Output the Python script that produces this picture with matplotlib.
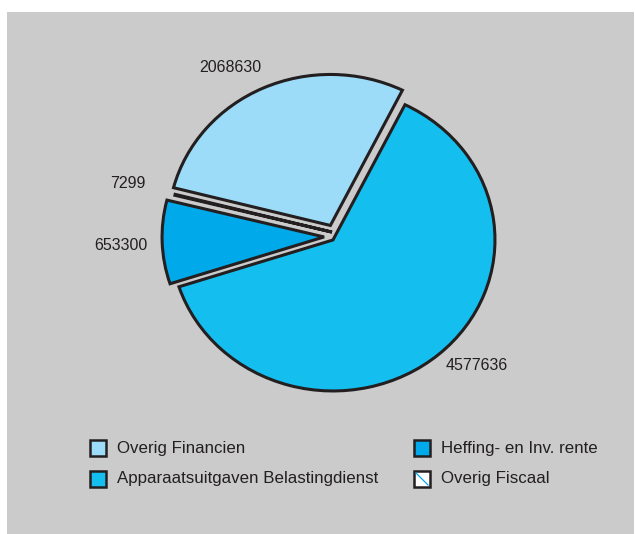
import matplotlib
matplotlib.use("Agg")
import matplotlib.pyplot as plt
from matplotlib.patches import Rectangle
from matplotlib.lines import Line2D

# Budget components (euro x 1000)
categories = ["Overig Financien", "Overig Fiscaal", "Heffing- en Inv. rente",
              "Apparaatsuitgaven Belastingdienst"]
values = [2068630, 7299, 653300, 4577636]
colors = ["#9CDCF8", "#FFFFFF", "#00AAEA", "#14BFF0"]
hatches = [None, "\\\\", None, None]

# Legend order (two columns)
legend_order = [0, 3, 2, 1]

W, H = 635, 534
DPI = 100
EDGE = "#231F20"
TEXT = "#231F20"
BG = "#CBCBCB"

# pulled-out slice offsets (axis units, x / y)
slice_shift = [(-0.01, 0.083), (0.0, 0.039), (-0.049, 0.007), (0.006, -0.013)]

plt.rcParams["font.family"] = ["Liberation Sans", "DejaVu Sans"]
plt.rcParams["hatch.color"] = "#00AAEA"
plt.rcParams["hatch.linewidth"] = 1.0

fig = plt.figure(figsize=(W / DPI, H / DPI), dpi=DPI, facecolor="white")

# grey panel
fig.patches.append(Rectangle((7 / W, 0), (634 - 7) / W, (H - 12) / H,
                             transform=fig.transFigure, facecolor=BG,
                             edgecolor="none", zorder=-5))

# pie axes: centre at (332, 238) px, radii 162 px (x) and 151 px (y)
cx, cy, rx, ry = 332, 238, 162, 151
ax_w, ax_h = 2.5 * rx, 2.5 * ry
ax = fig.add_axes([(cx - ax_w / 2) / W, (H - cy - ax_h / 2) / H, ax_w / W, ax_h / H])
ax.set_facecolor("none")
ax.set_zorder(2)

wedges, _ = ax.pie(values, colors=colors, startangle=63.6, counterclock=True,
                   wedgeprops=dict(edgecolor=EDGE, linewidth=2.2,
                                   joinstyle="miter"))
for w, h, (sx, sy) in zip(wedges, hatches, slice_shift):
    if h:
        w.set_hatch(h)
    w.set_center((sx, sy))
ax.set_aspect("auto")
ax.set_xlim(-1.25, 1.25)
ax.set_ylim(-1.25, 1.25)
ax.axis("off")

# value labels
label_pos = [(-0.63, 1.13, "center"), (-1.15, 0.36, "right"),
             (-1.14, -0.05, "right"), (0.70, -0.845, "left")]
for v, (lx, ly, ha) in zip(values, label_pos):
    ax.text(lx, ly, f"{v}", ha=ha, va="center", fontsize=11.5, color=TEXT)

# legend
sq = 16
col_x = [90, 414]
row_y = [448, 479]
for k, idx in enumerate(legend_order):
    col, row = k // 2, k % 2
    x0 = col_x[col]
    y0 = row_y[row]
    fig.patches.append(Rectangle((x0 / W, (H - y0 - sq / 2) / H), sq / W, sq / H,
                                 transform=fig.transFigure,
                                 facecolor=colors[idx], edgecolor=EDGE,
                                 linewidth=1.8, zorder=3))
    if hatches[idx]:
        fig.lines.append(Line2D([(x0 + 2) / W, (x0 + sq - 2) / W],
                                [(H - y0 + sq / 2 - 2) / H, (H - y0 - sq / 2 + 2) / H],
                                transform=fig.transFigure, color="#00AAEA",
                                linewidth=0.9, zorder=4))
    fig.text((x0 + 27) / W, (H - y0) / H, categories[idx], ha="left",
             va="center", fontsize=12.2, color=TEXT)

fig.savefig("out.png", dpi=DPI, facecolor="white")
